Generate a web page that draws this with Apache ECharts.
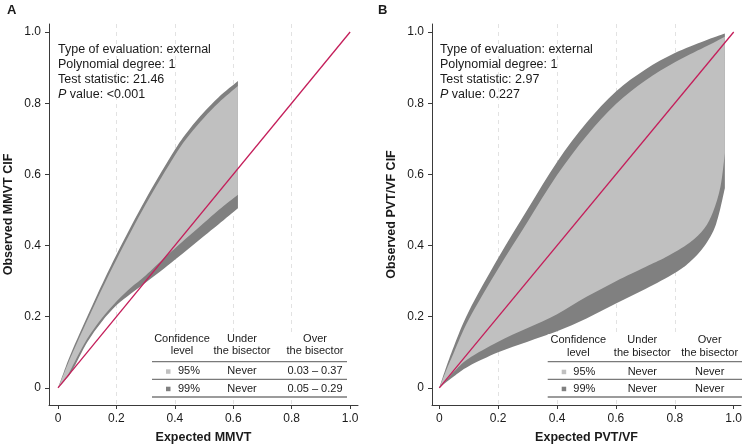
<!DOCTYPE html>
<html>
<head>
<meta charset="utf-8">
<script src="https://cdn.jsdelivr.net/npm/echarts@6.0.0/dist/echarts.min.js"></script>
<style>
html,body{margin:0;padding:0;background:#fff;}
#chart{width:742px;height:445px;}
</style>
</head>
<body>
<div id="chart"></div>
<script>
// ---------- data ----------
const tickValues = [0, 0.2, 0.4, 0.6, 0.8, 1.0];
const bisector = [[0, 0], [1, 1]];

// Panel A: MMVT calibration belt
const mmvtUpper99 = [[0,0],[0.02,0.045],[0.05,0.108],[0.126,0.247],[0.2,0.374],[0.3,0.53],[0.4,0.669],[0.45,0.727],[0.5,0.775],[0.55,0.817],[0.616,0.862]];
const mmvtUpper95 = [[0,0],[0.02,0.04],[0.05,0.099],[0.126,0.235],[0.2,0.36],[0.3,0.515],[0.4,0.653],[0.45,0.711],[0.5,0.759],[0.55,0.801],[0.616,0.848]];
const mmvtLower95 = [[0,0],[0.015,0.013],[0.03,0.03],[0.06,0.078],[0.1,0.138],[0.15,0.196],[0.2,0.243],[0.25,0.282],[0.3,0.316],[0.37,0.37],[0.4,0.392],[0.45,0.428],[0.5,0.464],[0.55,0.5],[0.616,0.543]];
const mmvtLower99 = [[0,0],[0.025,0.022],[0.05,0.05],[0.1,0.128],[0.15,0.186],[0.2,0.232],[0.25,0.265],[0.29,0.29],[0.35,0.327],[0.4,0.36],[0.45,0.393],[0.5,0.427],[0.55,0.46],[0.616,0.505]];

// Panel B: PVT/VF calibration belt
const pvtUpper99 = [[0,0],[0.02,0.05],[0.05,0.118],[0.1,0.215],[0.2,0.365],[0.3,0.502],[0.4,0.635],[0.5,0.745],[0.6,0.833],[0.7,0.895],[0.8,0.941],[0.9,0.975],[0.97,0.996]];
const pvtUpper95 = [[0,0],[0.02,0.042],[0.05,0.1],[0.1,0.192],[0.2,0.335],[0.3,0.467],[0.4,0.598],[0.5,0.708],[0.6,0.798],[0.7,0.864],[0.8,0.915],[0.9,0.957],[0.97,0.987]];
const pvtLower95 = [[0,0],[0.02,0.018],[0.05,0.046],[0.1,0.083],[0.2,0.13],[0.3,0.168],[0.4,0.207],[0.5,0.256],[0.6,0.3],[0.7,0.34],[0.77,0.368],[0.85,0.408],[0.9,0.448],[0.93,0.495],[0.955,0.565],[0.97,0.659]];
const pvtLower99 = [[0,0],[0.02,0.014],[0.05,0.033],[0.1,0.061],[0.2,0.1],[0.3,0.13],[0.4,0.159],[0.5,0.195],[0.6,0.237],[0.7,0.278],[0.8,0.323],[0.85,0.353],[0.9,0.398],[0.94,0.46],[0.97,0.561]];

const annotA = ['Type of evaluation: external', 'Polynomial degree: 1', 'Test statistic: 21.46', '<0.001'];
const annotB = ['Type of evaluation: external', 'Polynomial degree: 1', 'Test statistic: 2.97', '0.227'];
const tableHeader1 = ['Confidence', 'Under', 'Over'];
const tableHeader2 = ['level', 'the bisector', 'the bisector'];
const rowsA = [['95%', 'Never', '0.03 \u2013 0.37'], ['99%', 'Never', '0.05 \u2013 0.29']];
const rowsB = [['95%', 'Never', 'Never'], ['99%', 'Never', 'Never']];

// ---------- styling ----------
const FONT = '"Liberation Sans", Arial, Helvetica, sans-serif';
const C_LIGHT = '#c0c0c0';
const C_DARK = '#808080';
const C_RED = '#c41e5a';
const C_TEXT = '#1a1a1a';
const C_AXIS = '#3a3a3a';

const fmt = v => (Math.abs(v) < 1e-9 ? '0' : v.toFixed(1));

function xAxisCfg(gi, min, max, title) {
  return {
    type: 'value', gridIndex: gi, min: min, max: max,
    name: title, nameLocation: 'middle', nameGap: 26,
    nameTextStyle: { fontWeight: 'bold', fontSize: 12.5, color: C_TEXT, fontFamily: FONT },
    axisLine: { show: true, onZero: false, lineStyle: { color: C_AXIS, width: 1 } },
    axisTick: { show: true, length: 4, customValues: tickValues, lineStyle: { color: C_AXIS } },
    axisLabel: { customValues: tickValues, formatter: fmt, margin: 8, fontSize: 12, color: C_TEXT, fontFamily: FONT },
    splitLine: { show: true, showMinLine: false, showMaxLine: false, lineStyle: { color: '#e2e2e2', type: [4, 4], width: 1 } }
  };
}
function yAxisCfg(gi, title) {
  return {
    type: 'value', gridIndex: gi, min: -0.048, max: 1.0225,
    name: title, nameLocation: 'middle', nameGap: 34,
    nameTextStyle: { fontWeight: 'bold', fontSize: 12.5, color: C_TEXT, fontFamily: FONT },
    axisLine: { show: true, onZero: false, lineStyle: { color: C_AXIS, width: 1 } },
    axisTick: { show: true, length: 4, customValues: tickValues, lineStyle: { color: C_AXIS } },
    axisLabel: { customValues: tickValues, formatter: fmt, margin: 8, fontSize: 12, color: C_TEXT, fontFamily: FONT },
    splitLine: { show: false }
  };
}

// smooth (Catmull-Rom) path through pixel points, appended to path string
function smoothSegs(pts) {
  let d = '';
  for (let i = 0; i < pts.length - 1; i++) {
    const p0 = pts[Math.max(i - 1, 0)], p1 = pts[i], p2 = pts[i + 1], p3 = pts[Math.min(i + 2, pts.length - 1)];
    const c1x = p1[0] + (p2[0] - p0[0]) / 6, c1y = p1[1] + (p2[1] - p0[1]) / 6;
    const c2x = p2[0] - (p3[0] - p1[0]) / 6, c2y = p2[1] - (p3[1] - p1[1]) / 6;
    d += ' C' + c1x.toFixed(2) + ',' + c1y.toFixed(2) + ' ' + c2x.toFixed(2) + ',' + c2y.toFixed(2) + ' ' + p2[0].toFixed(2) + ',' + p2[1].toFixed(2);
  }
  return d;
}

function beltSeries(gi, upper, lower, color, name) {
  return {
    type: 'custom', name: name, xAxisIndex: gi, yAxisIndex: gi,
    data: [[0, 0]], silent: true, clip: true,
    renderItem: function (params, api) {
      const up = upper.map(p => api.coord(p));
      const lo = lower.map(p => api.coord(p)).reverse();
      let d = 'M' + up[0][0].toFixed(2) + ',' + up[0][1].toFixed(2) + smoothSegs(up);
      d += ' L' + lo[0][0].toFixed(2) + ',' + lo[0][1].toFixed(2) + smoothSegs(lo) + ' Z';
      return { type: 'path', shape: { pathData: d }, style: { fill: color, stroke: null } };
    }
  };
}
function bisectorSeries(gi) {
  return {
    type: 'line', xAxisIndex: gi, yAxisIndex: gi, data: bisector,
    showSymbol: false, silent: true, z: 5,
    lineStyle: { color: C_RED, width: 1.3 }
  };
}

// ---------- graphic: annotations and tables ----------
function txt(x, y, text, opts) {
  return {
    type: 'text', x: x, y: y, silent: true, z: 20,
    style: Object.assign({ text: text, fill: C_TEXT, font: '11px ' + FONT, align: 'center', verticalAlign: 'middle' }, (opts || {}))
  };
}
function annotation(x, lines) {
  const g = [];
  for (let i = 0; i < 3; i++) {
    g.push(txt(x, 50 + i * 15, lines[i], { font: '12.5px ' + FONT, align: 'left' }));
  }
  g.push({
    type: 'text', x: x, y: 95, silent: true, z: 20,
    style: {
      text: '{i|P} value: ' + lines[3], fill: C_TEXT, font: '12.5px ' + FONT, align: 'left', verticalAlign: 'middle',
      rich: { i: { fontStyle: 'italic', font: 'italic 12.5px ' + FONT, fill: C_TEXT } }
    }
  });
  return g;
}
function table(cols, x1, x2, markX, pctX, hy1, hy2, rowY, rows) {
  const g = [];
  g.push({ type: 'rect', silent: true, z: 15, shape: { x: x1, y: hy1 - 6, width: x2 - x1, height: 398.5 - (hy1 - 6) }, style: { fill: '#ffffff' } });
  for (let c = 0; c < 3; c++) {
    g.push(txt(cols[c], hy1, tableHeader1[c]));
    g.push(txt(cols[c], hy2, tableHeader2[c]));
  }
  [361.7, 379.3, 397].forEach(y => g.push({
    type: 'line', silent: true, z: 20, shape: { x1: x1, y1: y, x2: x2, y2: y },
    style: { stroke: '#7a7a7a', lineWidth: 1.3 }
  }));
  const mk = [C_LIGHT, C_DARK];
  rows.forEach((r, i) => {
    g.push({ type: 'rect', silent: true, z: 20, shape: { x: markX - 2, y: rowY[i] - 2, width: 4.5, height: 4.5 }, style: { fill: mk[i] } });
    g.push(txt(pctX, rowY[i], r[0], { align: 'left' }));
    g.push(txt(cols[1], rowY[i], r[1]));
    g.push(txt(cols[2], rowY[i], r[2]));
  });
  return g;
}

const graphics = [].concat(
  [txt(7, 10, 'A', { font: 'bold 13px ' + FONT, align: 'left' }), txt(378, 10, 'B', { font: 'bold 13px ' + FONT, align: 'left' })],
  annotation(58, annotA),
  annotation(440, annotB),
  table([182, 242, 315], 152, 347, 168, 178, 338.7, 350.7, [371.3, 388.7], rowsA),
  table([578.3, 642.3, 709.7], 547.7, 742, 563.7, 573.3, 340.3, 353, [371.7, 388.7], rowsB)
);

const chart = echarts.init(document.getElementById('chart'), null, { renderer: 'canvas' });
chart.setOption({
  backgroundColor: '#fff',
  animation: false,
  textStyle: { fontFamily: FONT },
  grid: [
    { left: 49, top: 24, width: 309, height: 381, containLabel: false, outerBoundsMode: 'none' },
    { left: 432, top: 24, width: 309, height: 381, containLabel: false, outerBoundsMode: 'none' }
  ],
  xAxis: [xAxisCfg(0, -0.0308, 1.027, 'Expected MMVT'), xAxisCfg(1, -0.0248, 1.0248, 'Expected PVT/VF')],
  yAxis: [yAxisCfg(0, 'Observed MMVT CIF'), yAxisCfg(1, 'Observed PVT/VF CIF')],
  series: [
    beltSeries(0, mmvtUpper99, mmvtLower99, C_DARK, '99%'),
    beltSeries(0, mmvtUpper95, mmvtLower95, C_LIGHT, '95%'),
    bisectorSeries(0),
    beltSeries(1, pvtUpper99, pvtLower99, C_DARK, '99%'),
    beltSeries(1, pvtUpper95, pvtLower95, C_LIGHT, '95%'),
    bisectorSeries(1)
  ],
  graphic: graphics
});
</script>
</body>
</html>
